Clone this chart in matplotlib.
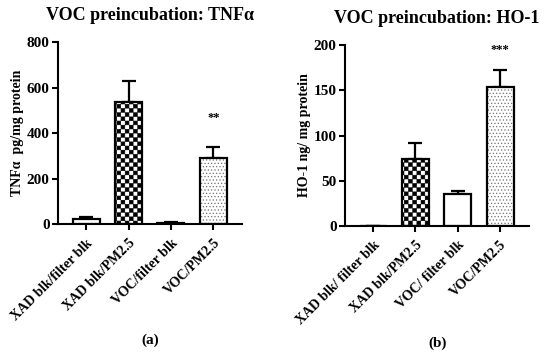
import numpy as np
import matplotlib
matplotlib.use("Agg")
import matplotlib.pyplot as plt
from matplotlib import hatch as mhatch
from matplotlib.path import Path

plt.rcParams['font.family'] = ['Liberation Serif', 'DejaVu Serif']
plt.rcParams['font.weight'] = 'bold'
plt.rcParams['hatch.linewidth'] = 0.5

# data
groups_a = ['XAD blk/filter blk', 'XAD blk/PM2.5', 'VOC/filter blk', 'VOC/PM2.5']
tnf_mean = [22, 537, 5, 289]
tnf_err = [8, 91, 4, 50]

groups_b = ['XAD blk/ filter blk', 'XAD blk/PM2.5', 'VOC/ filter blk', 'VOC/PM2.5']
ho1_mean = [0, 74, 35, 154]
ho1_err = [0, 18, 4, 18]

stars_a = ['', '', '', '**']
stars_b = ['', '', '', '***']
star_y_a = 466
star_y_b = 194


# checkerboard hatch ('c'), matplotlib has none built in
class CheckerHatch(mhatch.HatchPatternBase):
    def __init__(self, hatch, density):
        self.n = hatch.count('c') * density
        self.num_vertices = 5 * (self.n * self.n // 2)

    def set_vertices_and_codes(self, vertices, codes):
        step = 1.0 / self.n
        ins = step * 0.06
        k = 0
        for i in range(self.n):
            for j in range(self.n):
                if (i + j) % 2:
                    continue
                x0, y0 = i * step + ins, j * step + ins
                x1, y1 = (i + 1) * step - ins, (j + 1) * step - ins
                vertices[k:k + 5] = [[x0, y0], [x1, y0], [x1, y1], [x0, y1], [x0, y0]]
                codes[k:k + 5] = [Path.MOVETO, Path.LINETO, Path.LINETO,
                                  Path.LINETO, Path.CLOSEPOLY]
                k += 5


mhatch._hatch_types.append(CheckerHatch)
mhatch._validate_hatch_pattern = lambda h: None

styles = [dict(hatch=None), dict(hatch='cccc'), dict(hatch=None), dict(hatch='.....')]


def panel(ax, labels, means, errs, stars, star_y, title, ylabel, ymax, step):
    x = np.arange(len(labels))
    for i in range(len(labels)):
        h = styles[i]['hatch']
        if h == '.....':
            ax.bar(x[i], means[i], 0.64, color='white', edgecolor='0.45',
                   hatch=h, linewidth=0, zorder=2)
            ax.bar(x[i], means[i], 0.64, fill=False, edgecolor='black',
                   linewidth=1.6, zorder=3)
        else:
            ax.bar(x[i], means[i], 0.64, color='white', edgecolor='black',
                   hatch=h, linewidth=1.6, zorder=2)
    ax.errorbar(x, means, yerr=[np.zeros(len(errs)), errs], fmt='none',
                ecolor='black', elinewidth=1.6, capsize=5, capthick=1.6, zorder=1)
    for i, s in enumerate(stars):
        if s:
            ax.text(x[i], star_y, s, ha='center', va='center', fontsize=9)

    ax.set_xlim(-0.67, len(labels) - 1 + 0.68)
    ax.set_ylim(0, ymax)
    ax.set_yticks(np.arange(0, ymax + 1, step))
    ax.set_xticks(x)
    ax.set_xticklabels(labels, rotation=45, ha='right', rotation_mode='anchor')
    ax.set_title(title, fontsize=13, fontweight='bold', pad=16)
    ax.set_ylabel(ylabel, fontsize=10, fontweight='bold', labelpad=2)
    for side in ['top', 'right']:
        ax.spines[side].set_visible(False)
    for side in ['left', 'bottom']:
        ax.spines[side].set_linewidth(1.5)
    ax.tick_params(length=4, width=1.5)
    ax.tick_params(axis='y', labelsize=11, pad=2)
    ax.tick_params(axis='x', labelsize=10, pad=5)


fig = plt.figure(figsize=(5.5, 3.59), dpi=100)
ax1 = fig.add_axes([0.1055, 0.376, 0.3345, 0.507])
ax2 = fig.add_axes([0.627, 0.3705, 0.3345, 0.504])

panel(ax1, groups_a, tnf_mean, tnf_err, stars_a, star_y_a,
      'VOC preincubation: TNFα', 'TNFα  pg/mg protein', 800, 200)
panel(ax2, groups_b, ho1_mean, ho1_err, stars_b, star_y_b,
      'VOC preincubation: HO-1', 'HO-1 ng/ mg protein', 200, 50)

fig.text(0.273, 0.053, '(a)', ha='center', va='center', fontsize=11)
fig.text(0.795, 0.045, '(b)', ha='center', va='center', fontsize=11)

fig.savefig('out.png', dpi=100)
